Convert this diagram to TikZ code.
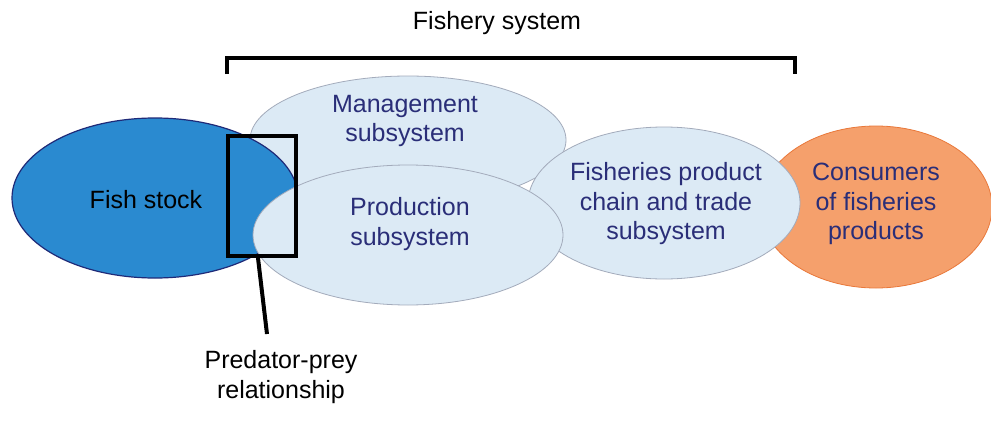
\documentclass[tikz,border=0pt]{standalone}
\usepackage{fontspec}
\setmainfont{Liberation Sans}
\usetikzlibrary{shapes.geometric}
\definecolor{fishblue}{HTML}{2A8AD0}
\definecolor{fishedge}{HTML}{1F2A78}
\definecolor{lightfill}{HTML}{DCEAF5}
\definecolor{lightedge}{HTML}{A3ABBB}
\definecolor{orangefill}{HTML}{F5A06C}
\definecolor{orangeedge}{HTML}{E9783A}
\definecolor{navytext}{HTML}{2A2E78}
\begin{document}
\begin{tikzpicture}[x=1pt,y=-1pt,
  oval/.style={ellipse, inner sep=0pt, draw, line width=0.8pt},
  lightoval/.style={oval, fill=lightfill, draw=lightedge},
  lbl/.style={font=\fontsize{25}{29.5}\selectfont, align=center, text=navytext},
  blacklbl/.style={font=\fontsize{25}{29.5}\selectfont, align=center, text=black},
  thick line/.style={line width=4pt, draw=black}]
\useasboundingbox[fill=white] (0,0) rectangle (991,423);

% ellipses (drawing order matters)
\node[oval, fill=orangefill, draw=orangeedge, minimum width=232pt, minimum height=162pt] (cons) at (876,207) {};
\node[lightoval, minimum width=316pt, minimum height=128pt] (mgmt) at (408,140) {};
\node[oval, fill=fishblue, draw=fishedge, line width=1.2pt, minimum width=286pt, minimum height=160pt] (fish) at (155,198) {};
\node[lightoval, minimum width=272pt, minimum height=152pt] (chain) at (664,203) {};
\node[lightoval, minimum width=310pt, minimum height=140pt] (prod) at (408,235) {};

% labels
\node[blacklbl] (fishlbl) at (146,200) {Fish stock};
\node[lbl] (mgmtlbl) at (405,121) {Management\\subsystem};
\node[lbl] (prodlbl) at (410,224) {Production\\subsystem};
\node[lbl] (chainlbl) at (666,204) {Fisheries product\\chain and trade\\subsystem};
\node[lbl] (conslbl) at (876,204) {Consumers\\of fisheries\\products};

% fishery system bracket
\node[blacklbl] (title) at (497,23) {Fishery system};
\coordinate (bl) at (227,74);
\coordinate (br) at (795,74);
\draw[thick line, line cap=butt, line join=miter] (bl) -- (bl |- 0,58) -- (br |- 0,58) -- (br);

% predator-prey box
\node[draw=black, line width=4pt, minimum width=68pt, minimum height=120pt, inner sep=0pt] (box) at (262,196) {};
\coordinate (tip) at (267,334);
\draw[thick line] ([xshift=-4pt]box.south) -- (tip);
\node[blacklbl] (pplbl) at (281,377) {Predator-prey\\relationship};
\end{tikzpicture}
\end{document}
